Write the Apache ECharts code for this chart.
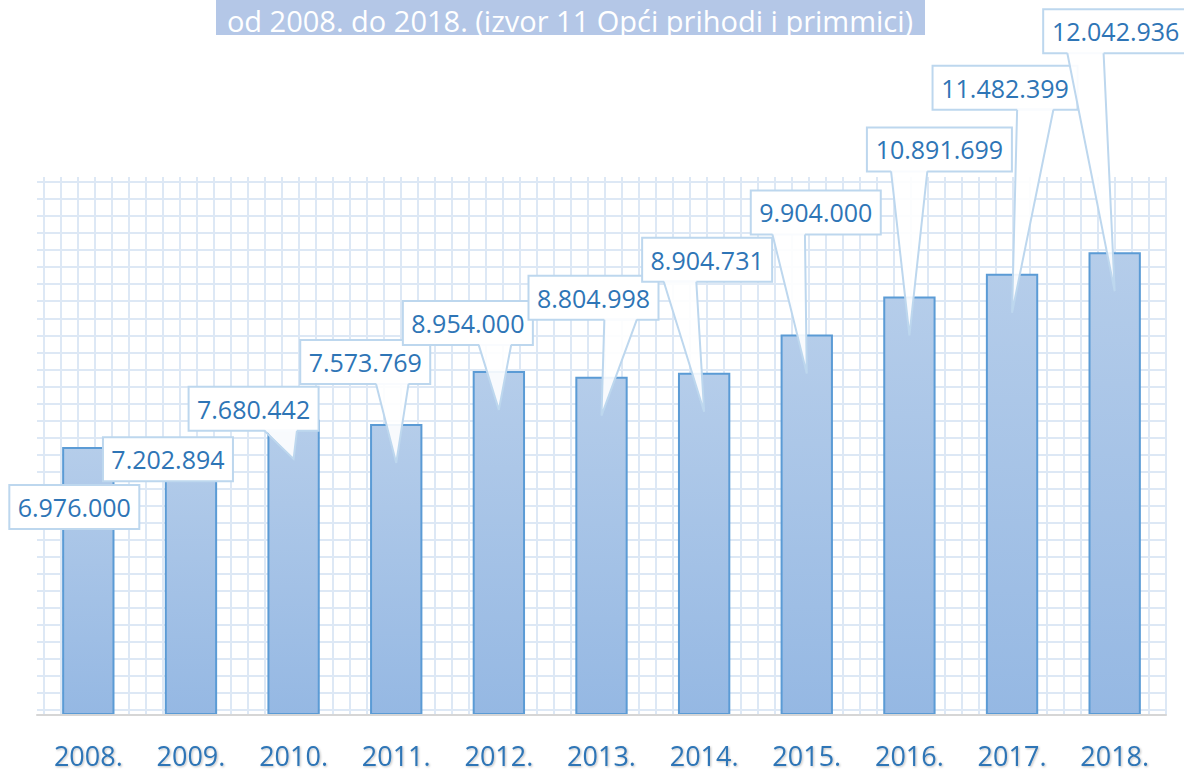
<!DOCTYPE html>
<html>
<head>
<meta charset="utf-8">
<title>Opći prihodi i primici 2008.-2018.</title>
<script src="https://cdn.jsdelivr.net/npm/echarts@6/dist/echarts.min.js"></script>
<style>
  html, body { margin: 0; padding: 0; background: #fff; }
  #chart { width: 1184px; height: 773px; }
</style>
</head>
<body>
<div id="chart"></div>
<script>
// godine i iznosi (izvor 11 Opći prihodi i primici)
const years = ['2008.', '2009.', '2010.', '2011.', '2012.', '2013.', '2014.', '2015.', '2016.', '2017.', '2018.']
const values = [6976000, 7202894, 7680442, 7573769, 8954000, 8804998, 8904731, 9904000, 10891699, 11482399, 12042936]

// pomak oblačića od vrha stupca (px)
const calloutOffsets = [[-14, 60], [-23, 21], [-40, -11], [-31, -62], [-31, -48], [-8, -79], [3, -113], [9, -122], [30, -147], [-7, -186], [1, -221]]

const blue = '#2e75b6'
const borderBlue = '#bdd7ee'
const gridColor = '#dde8f5'

function fmt(v) {
  return String(v).replace(/\B(?=(\d{3})+(?!\d))/g, '.')
}

const chart = echarts.init(document.getElementById('chart'), null, { renderer: 'svg' })

function renderCallout(params, api) {
  const i = api.value(0)
  const v = api.value(1)
  const p = api.coord([i, v])
  const off = calloutOffsets[i]
  const txt = fmt(v)
  const w = txt.length > 9 ? 145 : 130
  const h = 44
  const cx = p[0] + off[0]
  const cy = p[1] + off[1]
  const l = cx - w / 2
  const t = cy - h / 2
  const b = t + h
  const tip = [p[0], p[1] + 39]
  const children = [{
    type: 'rect',
    shape: { x: l, y: t, width: w, height: h },
    style: { fill: '#fff', stroke: borderBlue, lineWidth: 2 }
  }]
  if (tip[1] > b) {
    const base = tip[0] >= cx ? [l + 7 * w / 12, l + 5 * w / 6] : [l + w / 6, l + 5 * w / 12]
    children.push({
      type: 'polygon',
      shape: { points: [[base[0], b - 1.5], tip, [base[1], b - 1.5]] },
      style: { fill: 'rgba(255,255,255,0.9)' }
    })
    children.push({
      type: 'polyline',
      shape: { points: [[base[0], b], tip, [base[1], b]] },
      style: { fill: null, stroke: borderBlue, lineWidth: 2 }
    })
  }
  children.push({
    type: 'text',
    style: {
      text: txt,
      x: cx,
      y: cy,
      align: 'center',
      verticalAlign: 'middle',
      fontSize: 25,
      fontFamily: 'Open Sans',
      fill: blue,
      shadowColor: 'rgba(0,0,0,0.3)',
      shadowBlur: 2,
      shadowOffsetX: 1,
      shadowOffsetY: 1
    }
  })
  return { type: 'group', children: children }
}

const option = {
  animation: false,
  graphic: [
    {
      type: 'rect',
      shape: { x: 216, y: 0, width: 709, height: 35 },
      style: { fill: '#b4c7e7' },
      z: 10
    },
    {
      type: 'text',
      x: 570,
      y: 20,
      style: {
        text: 'od 2008. do 2018. (izvor 11 Opći prihodi i primmici)',
        align: 'center',
        verticalAlign: 'middle',
        fontSize: 29,
        fontFamily: 'Open Sans',
        fill: '#fff',
        shadowColor: 'rgba(0,0,0,0.35)',
        shadowBlur: 2,
        shadowOffsetX: 1,
        shadowOffsetY: 1
      },
      z: 11
    }
  ],
  grid: [
    { left: 37, right: 18, top: 177, bottom: 58 },
    { left: 44, width: 1122, top: 177, height: 538 },
    { left: 37, width: 1129, top: 182, height: 528 }
  ],
  xAxis: [
    {
      type: 'category',
      gridIndex: 0,
      data: years,
      axisLine: { lineStyle: { color: '#d6d6d6', width: 2 } },
      axisTick: { show: false },
      axisLabel: {
        margin: 27,
        fontSize: 27,
        fontFamily: 'Open Sans',
        color: blue,
        textShadowColor: 'rgba(0,0,0,0.25)',
        textShadowBlur: 2,
        textShadowOffsetX: 1,
        textShadowOffsetY: 1
      },
      z: 3
    },
    {
      type: 'value',
      gridIndex: 1,
      min: 0,
      max: 66,
      interval: 1,
      axisLine: { show: false },
      axisTick: { show: false },
      axisLabel: { show: false },
      splitLine: { show: true, lineStyle: { color: gridColor, width: 2 } }
    },
    {
      type: 'value',
      gridIndex: 2,
      show: false
    }
  ],
  yAxis: [
    {
      type: 'value',
      gridIndex: 0,
      min: 0,
      max: 14000000,
      show: false,
      splitLine: { show: false }
    },
    {
      type: 'value',
      gridIndex: 1,
      show: false
    },
    {
      type: 'value',
      gridIndex: 2,
      min: 0,
      max: 31,
      interval: 1,
      axisLine: { show: false },
      axisTick: { show: false },
      axisLabel: { show: false },
      splitLine: { show: true, lineStyle: { color: gridColor, width: 2 } }
    }
  ],
  series: [
    {
      type: 'bar',
      xAxisIndex: 0,
      yAxisIndex: 0,
      data: values,
      barWidth: '51%',
      itemStyle: {
        color: new echarts.graphic.LinearGradient(0, 0, 0, 1, [
          { offset: 0, color: '#b5cdea' },
          { offset: 1, color: '#95b8e3' }
        ]),
        borderColor: '#5b9bd5',
        borderWidth: 2
      },
      z: 2
    },
    {
      type: 'custom',
      xAxisIndex: 0,
      yAxisIndex: 0,
      data: values.map((v, i) => [i, v]),
      encode: { x: 0, y: 1 },
      renderItem: renderCallout,
      clip: false,
      z: 5
    }
  ]
}

chart.setOption(option)
</script>
</body>
</html>
